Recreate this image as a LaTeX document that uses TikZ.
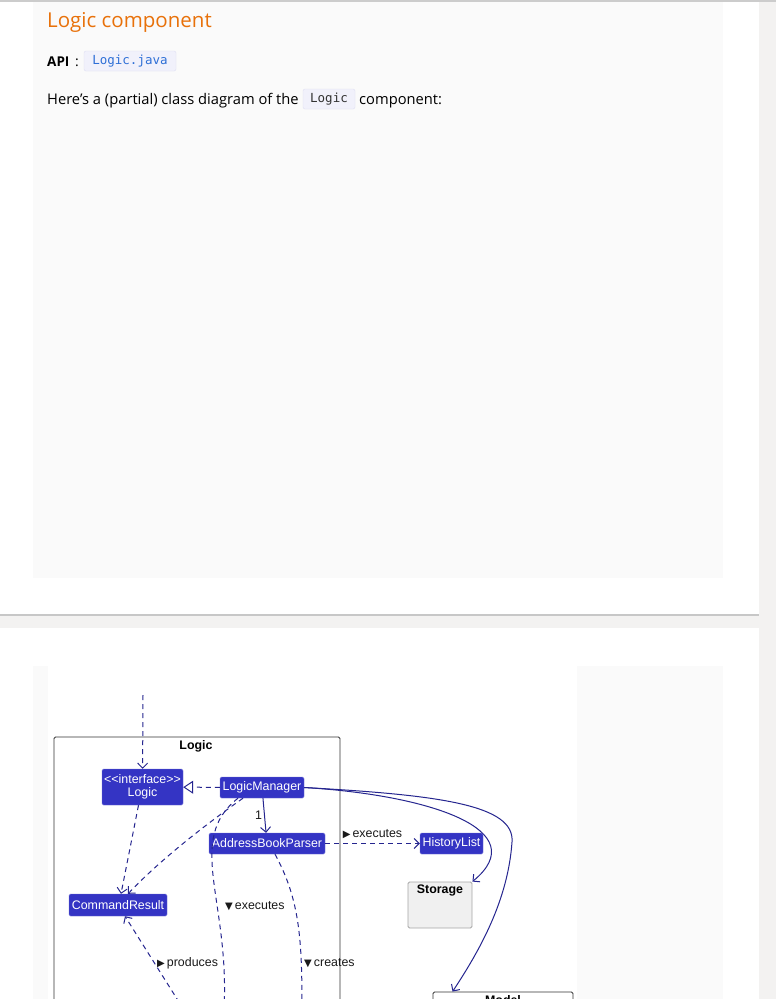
\documentclass[tikz,border=0pt]{standalone}
\usepackage{fontspec}
\setmainfont{Open Sans}
\newfontfamily\diagfont{Liberation Sans}
\newfontfamily\symfont{DejaVu Sans}
\newfontfamily\codefont{DejaVu Sans Mono}
\usetikzlibrary{arrows.meta,positioning,calc}
\definecolor{umlblue}{HTML}{3434C4}
\definecolor{linkblue}{HTML}{25258F}
\definecolor{pagegray}{HTML}{F3F2F1}
\definecolor{panelgray}{HTML}{FAFAFA}
\definecolor{headorange}{HTML}{E8710A}
\definecolor{codeblue}{HTML}{2E6FD6}
\definecolor{codebg}{HTML}{F1F1FB}
\definecolor{codeline}{HTML}{E0E0F2}
\newcommand{\lblright}{{\symfont\fontsize{10}{10}\selectfont ▶}\,}
\newcommand{\lbldown}{{\symfont\fontsize{10}{10}\selectfont ▼}\,}

\begin{document}
\begin{tikzpicture}[x=1pt, y=-1pt,
  cls/.style={rectangle, fill=umlblue, draw=umlblue!70!white, rounded corners=1.5pt, text=white, minimum width=#1, minimum height=21pt, inner sep=1pt, align=center,
    font=\diagfont\fontsize{12.4}{13}\selectfont},
  cls/.default=60pt,
  pkg/.style={rectangle, draw=black!80, line width=0.9pt, rounded corners=1.5pt},
  pkgtitle/.style={font=\diagfont\bfseries\fontsize{12.4}{14}\selectfont},
  code/.style={rectangle, fill=codebg, draw=codeline, rounded corners=2pt, minimum height=20pt, inner sep=0pt, font=\codefont\fontsize{12.5}{14}\selectfont},
  lbl/.style={text=black!90, font=\diagfont\fontsize{12.4}{13}\selectfont, inner sep=1pt},
  arr/.style={-{Straight Barb[length=5pt,width=10pt,line width=1pt]}, linkblue, line width=1pt},
  dep/.style={arr, dash pattern=on 5pt off 4pt},
  real/.style={-{Triangle[open, length=10pt, width=13pt, line width=1pt]}, linkblue, line width=1pt, dash pattern=on 5pt off 4pt}
]
  \useasboundingbox (0,0) rectangle (776,999);
  \clip (0,0) rectangle (776,999);

  \fill[white] (0,0) rectangle (776,999);
  \fill[pagegray] (759,0) rectangle (776,999);
  \fill[pagegray] (0,615) rectangle (759,628);
  \fill[black!22] (0,614) rectangle (759,616);
  \fill[black!20] (0,0) rectangle (776,2);
  \fill[panelgray] (33,2) rectangle (723,578);
  \fill[panelgray] (33,666) rectangle (723,999);
  \fill[white] (48,666) rectangle (577,999);

  \node[anchor=base west, inner sep=0pt, text=headorange, font=\fontsize{20.5}{26}\selectfont] (title) at (47,27) {Logic component};
  \node[anchor=base west, inner sep=0pt, font=\bfseries\fontsize{13.5}{16}\selectfont] (apilabel) at (47,66) {API};
  \node[anchor=base west, inner sep=0pt, font=\fontsize{14}{16}\selectfont] (apisep) at (75,66) {:};
  \node[code, text=codeblue, minimum width=92pt] (apicode) at (130,61) {Logic.java};
  \node[anchor=base west, inner sep=0pt, font=\fontsize{14.7}{18}\selectfont] (introtext) at (47,104) {Here’s a (partial) class diagram of the};
  \node[code, text=black!80, minimum width=52pt] (introcode) at (329,99) {Logic};
  \node[anchor=base west, inner sep=0pt, font=\fontsize{14.7}{18}\selectfont] (introtail) at (359,104) {component:};

  \draw[pkg] (54,737) rectangle (340,1012);
  \node[pkgtitle] (logicpkg) at (196,746) {Logic};

  \node[cls=81pt, minimum height=36pt] (logic) at (142.5,787) {<<interface>>\\Logic};
  \node[cls=84pt] (mgr) at (262,787.5) {LogicManager};
  \node[cls=116pt] (parser) at (267,843.5) {AddressBookParser};
  \node[cls=63pt] (history) at (451.5,843.5) {HistoryList};
  \node[cls=98pt, minimum height=22pt] (cmd) at (118,905) {CommandResult};
  \node[rectangle, fill=black!6, draw=black!35, line width=0.9pt, rounded corners=1.5pt, minimum width=64pt, minimum height=46pt] (storage) at (440,905) {};
  \node[pkgtitle] (storagetitle) at ($(storage.north)+(0,9)$) {Storage};
  \node[pkg, minimum width=140pt, minimum height=38pt] (model) at (503,1011) {};
  \node[pkgtitle] (modeltitle) at ($(model.north)+(0,9)$) {Model};

  \coordinate (entry) at (143,695);
  \coordinate (execEnd) at (224,1010);
  \coordinate (createEnd) at (302,1010);
  \coordinate (prodStart) at (184,1010);

  \draw[dep] (entry) -- (logic);
  \draw[real] (mgr) -- (logic);
  \draw[arr] (mgr) -- (parser) node[midway, left=1pt, lbl] {1};
  \draw[dep] (parser) -- (history) node[midway, above=3pt, lbl] {\lblright executes};
  \draw[arr] (mgr.east) .. controls (430,795) and (535,830) .. (storage.north east);
  \draw[arr] (mgr.east) .. controls (440,795) and (515,805) .. (512,842)
    .. controls (508,900) and (480,950) .. ($(model.north west)+(20,0)$);
  \draw[dep] ($(logic.south)+(-4,0)$) -- ($(cmd.north)+(3,0)$);
  \draw[dep] ($(mgr.south)+(-19,0)$) .. controls (205,825) and (160,860) .. ($(cmd.north)+(10,0)$);
  \draw[dep, -] ($(mgr.south)+(-24,0)$) .. controls (185,840) and (230,900) .. (execEnd);
  \draw[dep, -] ($(parser.south)+(8,0)$) .. controls (300,900) and (302,940) .. (createEnd);
  \draw[dep] (prodStart) -- ($(cmd.south)+(7,0)$);

  \node[lbl, anchor=west] (execlbl) at (224,906) {\lbldown executes};
  \node[lbl, anchor=west] (prodlbl) at (156,963) {\lblright produces};
  \node[lbl, anchor=west] (createlbl) at (303,963) {\lbldown creates};
\end{tikzpicture}
\end{document}
